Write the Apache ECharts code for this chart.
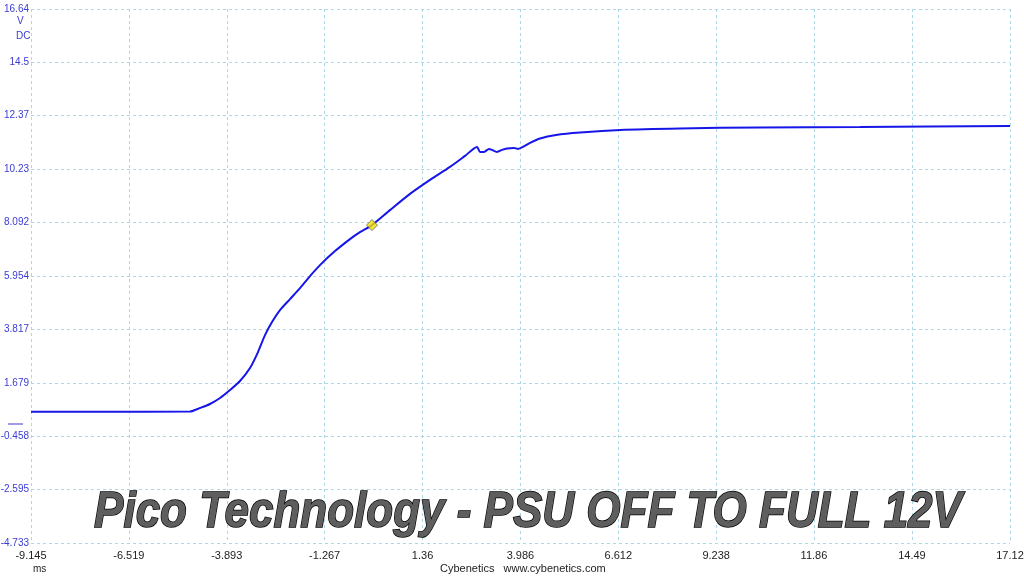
<!DOCTYPE html>
<html>
<head>
<meta charset="utf-8">
<script src="https://cdn.jsdelivr.net/npm/echarts@6/dist/echarts.min.js"></script>
<style>html,body{margin:0;padding:0;background:#fff}#c{width:1024px;height:576px}</style>
</head>
<body>
<div id="c"></div>
<script>
// Tick values and labels
var xTicks = [-9.145, -6.519, -3.893, -1.267, 1.36, 3.986, 6.612, 9.238, 11.86, 14.49, 17.12];
var xTickLabels = ['-9.145', '-6.519', '-3.893', '-1.267', '1.36', '3.986', '6.612', '9.238', '11.86', '14.49', '17.12'];
var yTicks = [-4.733, -2.595, -0.458, 1.679, 3.817, 5.954, 8.092, 10.23, 12.37, 14.5, 16.64];
var yTickLabels = ['-4.733', '-2.595', '-0.458', '1.679', '3.817', '5.954', '8.092', '10.23', '12.37', '14.5', '16.64'];

// Trace (time in ms, voltage in V)
var timeMs = [-9.145, -7.294, -4.879, -4.611, -4.343, -4.074, -3.806, -3.538, -3.270, -3.055, -2.867, -2.679, -2.465, -2.196, -1.928, -1.660, -1.392, -0.989, -0.587, -0.319, 0.003, 0.486, 1.023, 1.560, 2.096, 2.499, 2.821, 2.901, 3.009, 3.143, 3.223, 3.357, 3.491, 3.625, 3.813, 3.921, 4.055, 4.243, 4.511, 4.940, 5.584, 6.657, 8.267, 10.413, 13.096, 17.12];
var voltage = [0.52, 0.52, 0.53, 0.67, 0.83, 1.07, 1.39, 1.75, 2.27, 2.91, 3.59, 4.11, 4.59, 5.03, 5.47, 5.95, 6.39, 6.95, 7.43, 7.71, 7.99, 8.59, 9.24, 9.80, 10.32, 10.76, 11.12, 10.92, 10.92, 11.04, 11.00, 10.92, 11.00, 11.06, 11.08, 11.04, 11.12, 11.28, 11.46, 11.60, 11.70, 11.80, 11.86, 11.90, 11.92, 11.96];

// Cursor marker
var markerX = [0.003];
var markerY = [7.99];

function lookup(ticks, labels, v) {
  var best = 0, d = Infinity;
  for (var i = 0; i < ticks.length; i++) {
    var dd = Math.abs(ticks[i] - v);
    if (dd < d) { d = dd; best = i; }
  }
  return labels[best];
}

var gridLine = { show: true, lineStyle: { color: '#acd8e6', type: [3, 3], width: 1 } };

var chart = echarts.init(document.getElementById('c'), null, { renderer: 'canvas' });
chart.setOption({
  animation: false,
  backgroundColor: '#ffffff',
  grid: { left: 31, right: 14, top: 9, bottom: 33, containLabel: false, outerBoundsMode: 'none' },
  xAxis: {
    type: 'value',
    min: xTicks[0], max: xTicks[xTicks.length - 1],
    axisLine: { show: false },
    axisTick: { show: false, customValues: xTicks },
    splitLine: gridLine,
    axisLabel: {
      customValues: xTicks,
      color: '#222', fontSize: 11, fontFamily: 'Liberation Sans', margin: 7,
      formatter: function (v) { return lookup(xTicks, xTickLabels, v); }
    }
  },
  yAxis: {
    type: 'value',
    min: yTicks[0], max: yTicks[yTicks.length - 1],
    axisLine: { show: false },
    axisTick: { show: false, customValues: yTicks },
    splitLine: gridLine,
    axisLabel: {
      customValues: yTicks,
      color: '#3a3ad6', fontSize: 10, fontFamily: 'Liberation Sans', margin: 2,
      formatter: function (v) { return lookup(yTicks, yTickLabels, v); }
    }
  },
  series: [
    {
      type: 'line',
      data: timeMs.map(function (t, i) { return [t, voltage[i]]; }),
      showSymbol: false,
      smooth: 0.25,
      lineStyle: { color: '#1616e8', width: 2 },
      z: 2
    },
    {
      type: 'scatter',
      data: markerX.map(function (t, i) { return [t, markerY[i]]; }),
      symbol: 'diamond',
      symbolSize: [11, 11],
      itemStyle: { color: '#f2e200', borderColor: '#666', borderWidth: 1 },
      z: 3
    }
  ],
  graphic: [
    { type: 'text', left: 17, top: 16, style: { text: 'V', fill: '#3a3ad6', font: '10px "Liberation Sans"' } },
    { type: 'text', left: 16, top: 31, style: { text: 'DC', fill: '#3a3ad6', font: '10px "Liberation Sans"' } },
    { type: 'line', shape: { x1: 8, y1: 424, x2: 23, y2: 424 }, style: { stroke: '#3a3ad6', lineWidth: 1 } },
    { type: 'text', left: 33, top: 564, style: { text: 'ms', fill: '#222', font: '10px "Liberation Sans"' } },
    { type: 'text', left: 440, top: 563, style: { text: 'Cybenetics   www.cybenetics.com', fill: '#222', font: '11px "Liberation Sans"' } },
    {
      type: 'text', x: 528, y: 513, scaleX: 0.88, z: 10,
      style: {
        text: 'Pico Technology - PSU OFF TO FULL 12V',
        font: 'italic bold 50px "Liberation Sans"',
        align: 'center', verticalAlign: 'middle',
        fill: '#5e5e5e',
        stroke: '#000', lineWidth: 1.5,
        shadowColor: 'rgba(0,0,0,0.45)', shadowBlur: 3, shadowOffsetX: 2, shadowOffsetY: 2
      }
    }
  ]
});
</script>
</body>
</html>
